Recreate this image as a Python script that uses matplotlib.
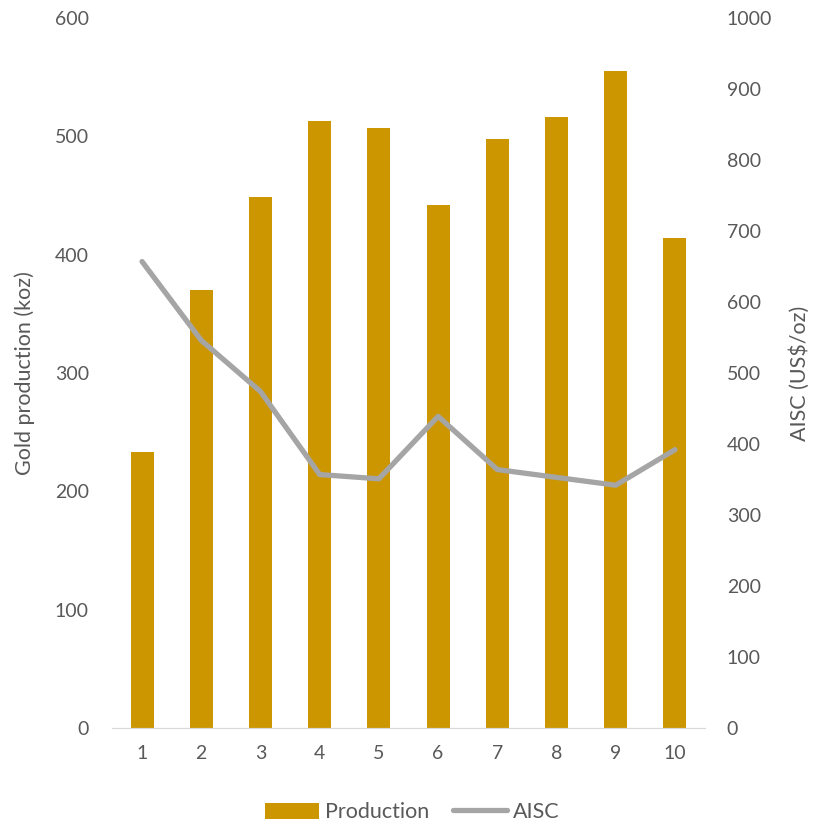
import matplotlib
matplotlib.use("Agg")
import matplotlib.pyplot as plt
from matplotlib.lines import Line2D
from matplotlib.patches import Patch

categories = ["1", "2", "3", "4", "5", "6", "7", "8", "9", "10"]
production = [233, 370, 449, 513, 507, 442, 498, 516, 555, 414]
aisc = [657, 546, 474, 357, 351, 439, 364, 353, 342, 392]

bar_color = "#CC9600"
line_color = "#A5A5A5"
text_color = "#595959"

plt.rcParams["font.family"] = ["Lato", "DejaVu Sans"]

fig = plt.figure(figsize=(8.25, 8.23), dpi=100)
ax = fig.add_axes([0.1363, 0.1154, 0.7177, 0.8627])
x = list(range(len(categories)))

ax.bar(x, production, width=0.39, color=bar_color, zorder=2)
ax.set_xlim(-0.5, len(categories) - 0.5)
ax.set_ylim(0, 600)
ax.set_yticks(range(0, 601, 100))
ax.set_xticks(x)
ax.set_xticklabels(categories)

ax2 = ax.twinx()
ax2.plot(x, aisc, color=line_color, linewidth=3.8, solid_capstyle="round",
         solid_joinstyle="round", zorder=3)
ax2.set_ylim(0, 1000)
ax2.set_yticks(range(0, 1001, 100))

for a in (ax, ax2):
    for s in ("top", "left", "right"):
        a.spines[s].set_visible(False)
    a.spines["bottom"].set_color("#D9D9D9")
    a.tick_params(length=0, labelsize=14, colors=text_color)

ax.tick_params(axis="y", pad=17)
ax.tick_params(axis="x", pad=12)
ax2.tick_params(axis="y", pad=16)

ax.set_ylabel("Gold production (koz)", fontsize=15.5, color=text_color, labelpad=14)
ax2.set_ylabel("AISC (US$/oz)", fontsize=15.5, color=text_color, labelpad=12)

handles = [Patch(facecolor=bar_color, label="Production"),
           Line2D([0], [0], color=line_color, linewidth=3.8, solid_capstyle="round", label="AISC")]
fig.legend(handles=handles, loc="center", bbox_to_anchor=(0.5, 0.013), ncol=2,
           frameon=False, fontsize=15.5, labelcolor=text_color, handlelength=2.5,
           handleheight=0.8, handletextpad=0.3, columnspacing=1.1)

fig.savefig("out.png", dpi=100, facecolor="white")
